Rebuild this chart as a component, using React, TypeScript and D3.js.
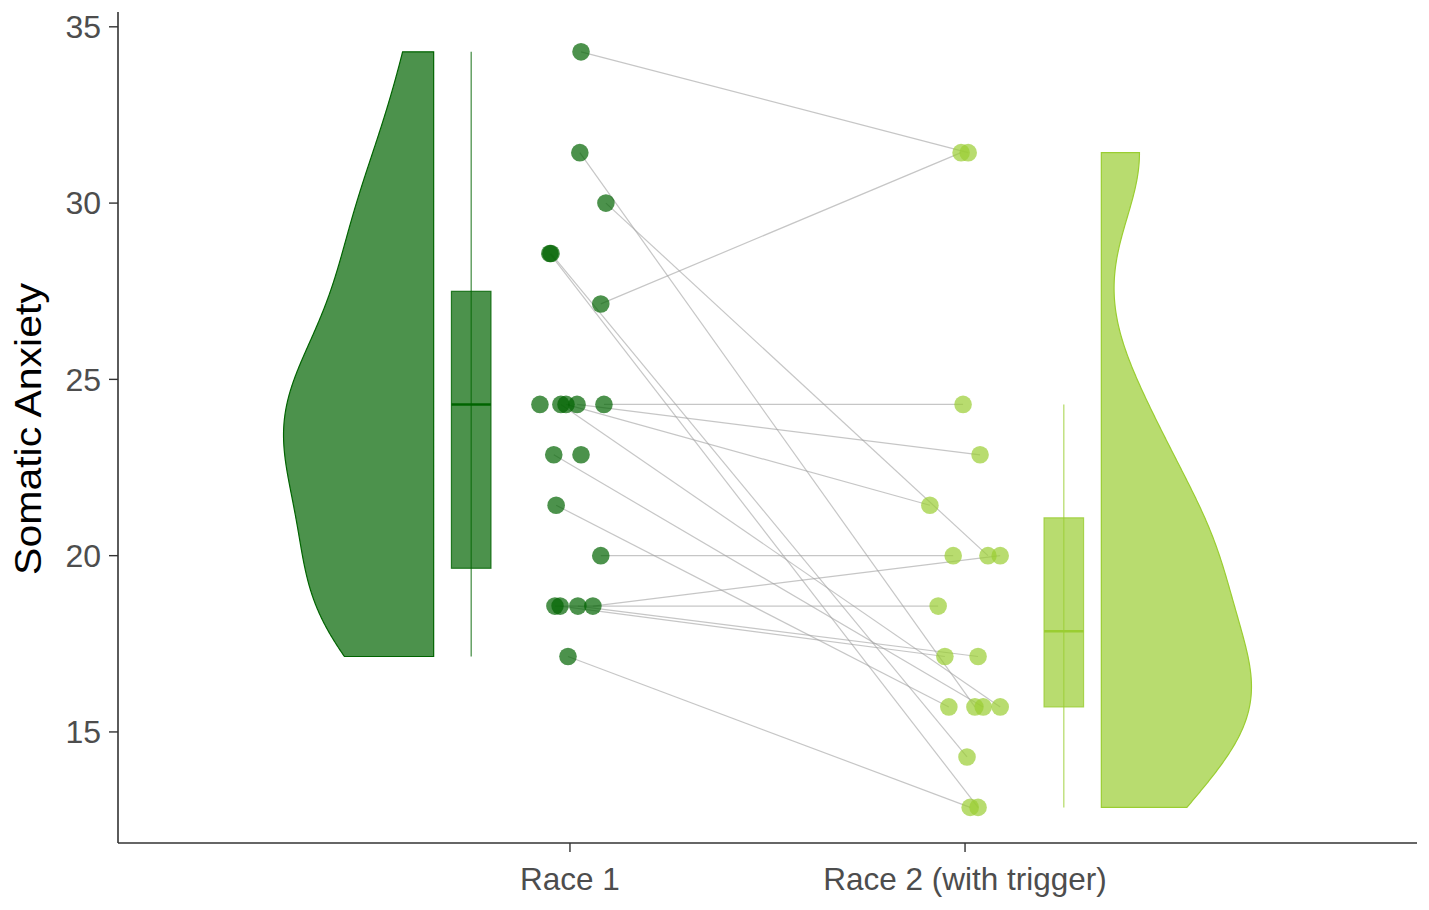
import * as d3 from 'd3'

const width = 1429
const height = 910

const margin = { top: 12, right: 12, bottom: 67, left: 118 }

const categories = ['Race 1', 'Race 2 (with trigger)']
const yTicks = [15, 20, 25, 30, 35]

// one entry per subject, race 2 is null where there is no second score
const race1 = [34.29, 31.43, 30.0, 28.57, 28.57, 27.14, 24.29, 24.29, 24.29, 24.29,
  24.29, 22.86, 22.86, 21.43, 20.0, 18.57, 18.57, 18.57, 18.57, 17.14]
const race2 = [31.43, 15.71, 20.0, 12.86, 14.29, 31.43, null, 15.71, 21.43, 22.86,
  24.29, 15.71, null, 15.71, 20.0, 18.57, 17.14, 17.14, 20.0, 12.86]

// horizontal jitter, in category units
const race1Jitter = [0.028, 0.025, 0.091, -0.051, -0.048, 0.078, -0.076, -0.023, -0.010, 0.018,
  0.086, -0.041, 0.028, -0.035, 0.078, -0.038, -0.025, 0.020, 0.058, -0.005]
const race2Jitter = [0.008, 0.025, 0.058, 0.033, 0.005, -0.010, 0, 0.089, -0.089, 0.038,
  -0.005, 0.046, 0, -0.041, -0.030, -0.068, -0.051, 0.033, 0.089, 0.013]

const colors = ['#006400', '#9ACD32']

const innerWidth = width - margin.left - margin.right
const innerHeight = height - margin.top - margin.bottom

const xScale = d3.scaleLinear().domain([-0.144, 3.144]).range([0, innerWidth])
const yScale = d3.scaleLinear().domain([11.85, 35.42]).range([innerHeight, 0])

const gaussian = (u: number) => Math.exp(-0.5 * u * u) / Math.sqrt(2 * Math.PI)

function density(values: number[]) {
  const s = values.slice().sort(d3.ascending)
  const sd = d3.deviation(s) as number
  const iqr = (d3.quantile(s, 0.75) as number) - (d3.quantile(s, 0.25) as number)
  const bw = 0.9 * Math.min(sd, iqr / 1.34) * Math.pow(s.length, -0.2)
  const [lo, hi] = d3.extent(s) as [number, number]
  return d3.range(512).map(i => {
    const v = lo + (hi - lo) * i / 511
    return [v, (d3.mean(s, d => gaussian((v - d) / bw)) as number) / bw]
  })
}

function boxStats(values: number[]) {
  const s = values.slice().sort(d3.ascending)
  const q1 = d3.quantile(s, 0.25) as number
  const med = d3.quantile(s, 0.5) as number
  const q3 = d3.quantile(s, 0.75) as number
  const iqr = q3 - q1
  const lo = d3.min(s.filter(d => d >= q1 - 1.5 * iqr)) as number
  const hi = d3.max(s.filter(d => d <= q3 + 1.5 * iqr)) as number
  return { q1, med, q3, lo, hi }
}

function App() {
  const groups = [
    race1,
    race2.filter(d => d !== null) as number[]
  ]
  const violinSide = [-1, 1]
  const violinOffset = 0.345
  const violinWidth = 0.38
  const boxOffset = 0.25
  const boxWidth = 0.1

  return (
    <svg width={width} height={height} style={{ position: 'absolute', left: 0, top: 0, background: '#fff' }}>
      <g transform={`translate(${margin.left},${margin.top})`}>
        {groups.map((vals, gi) => {
          const dens = density(vals)
          const maxD = d3.max(dens, d => d[1]) as number
          const base = gi + 1 + violinSide[gi] * violinOffset
          const area = d3.area<number[]>()
            .y(d => yScale(d[0]))
            .x0(xScale(base))
            .x1(d => xScale(base + violinSide[gi] * violinWidth * d[1] / maxD))
          const b = boxStats(vals)
          const bx = gi + 1 + violinSide[gi] * boxOffset
          return (
            <g key={gi}>
              <path d={area(dens) as string} fill={colors[gi]} fillOpacity={0.7}
                stroke={colors[gi]} strokeWidth={1.2} />
              <line x1={xScale(bx)} x2={xScale(bx)} y1={yScale(b.hi)} y2={yScale(b.lo)}
                stroke={colors[gi]} strokeOpacity={0.7} strokeWidth={1.3} />
              <rect x={xScale(bx - boxWidth / 2)} width={xScale(boxWidth) - xScale(0)}
                y={yScale(b.q3)} height={yScale(b.q1) - yScale(b.q3)}
                fill={colors[gi]} fillOpacity={0.7} stroke={colors[gi]} strokeOpacity={0.8} strokeWidth={1.2} />
              <line x1={xScale(bx - boxWidth / 2)} x2={xScale(bx + boxWidth / 2)}
                y1={yScale(b.med)} y2={yScale(b.med)} stroke={colors[gi]} strokeWidth={2.5} />
            </g>
          )
        })}

        {race1.map((v, i) => race2[i] === null ? null : (
          <line key={'l' + i}
            x1={xScale(1 + race1Jitter[i])} y1={yScale(v)}
            x2={xScale(2 + race2Jitter[i])} y2={yScale(race2[i] as number)}
            stroke="#a0a0a0" strokeOpacity={0.6} strokeWidth={1.2} />
        ))}

        {race1.map((v, i) => (
          <circle key={'a' + i} cx={xScale(1 + race1Jitter[i])} cy={yScale(v)} r={8.8}
            fill={colors[0]} fillOpacity={0.7} />
        ))}
        {race2.map((v, i) => v === null ? null : (
          <circle key={'b' + i} cx={xScale(2 + race2Jitter[i])} cy={yScale(v)} r={8.8}
            fill={colors[1]} fillOpacity={0.7} />
        ))}

        <line x1={0} x2={0} y1={0} y2={innerHeight} stroke="#333" strokeWidth={1.6} />
        <line x1={0} x2={innerWidth} y1={innerHeight} y2={innerHeight} stroke="#333" strokeWidth={1.6} />

        {yTicks.map(t => (
          <g key={t} transform={`translate(0,${yScale(t)})`}>
            <line x1={-9} x2={0} stroke="#333" strokeWidth={1.4} />
            <text x={-17} dy="0.35em" textAnchor="end" fill="#4d4d4d"
              style={{ fontFamily: 'Liberation Sans, Arial, sans-serif', fontSize: 32 }}>{t}</text>
          </g>
        ))}

        {categories.map((c, i) => (
          <g key={c} transform={`translate(${xScale(i + 1)},${innerHeight})`}>
            <line y1={0} y2={9} stroke="#333" strokeWidth={1.4} />
            <text y={47} textAnchor="middle" fill="#4d4d4d"
              style={{ fontFamily: 'Liberation Sans, Arial, sans-serif', fontSize: 31.5 }}>{c}</text>
          </g>
        ))}

        <text transform={`translate(${41 - margin.left},${(283 + 575) / 2 - margin.top}) rotate(-90)`}
          textAnchor="middle" fill="#000" textLength={292} lengthAdjust="spacingAndGlyphs"
          style={{ fontFamily: 'Liberation Sans, Arial, sans-serif', fontSize: 37 }}>Somatic Anxiety</text>
      </g>
    </svg>
  )
}

export default App
